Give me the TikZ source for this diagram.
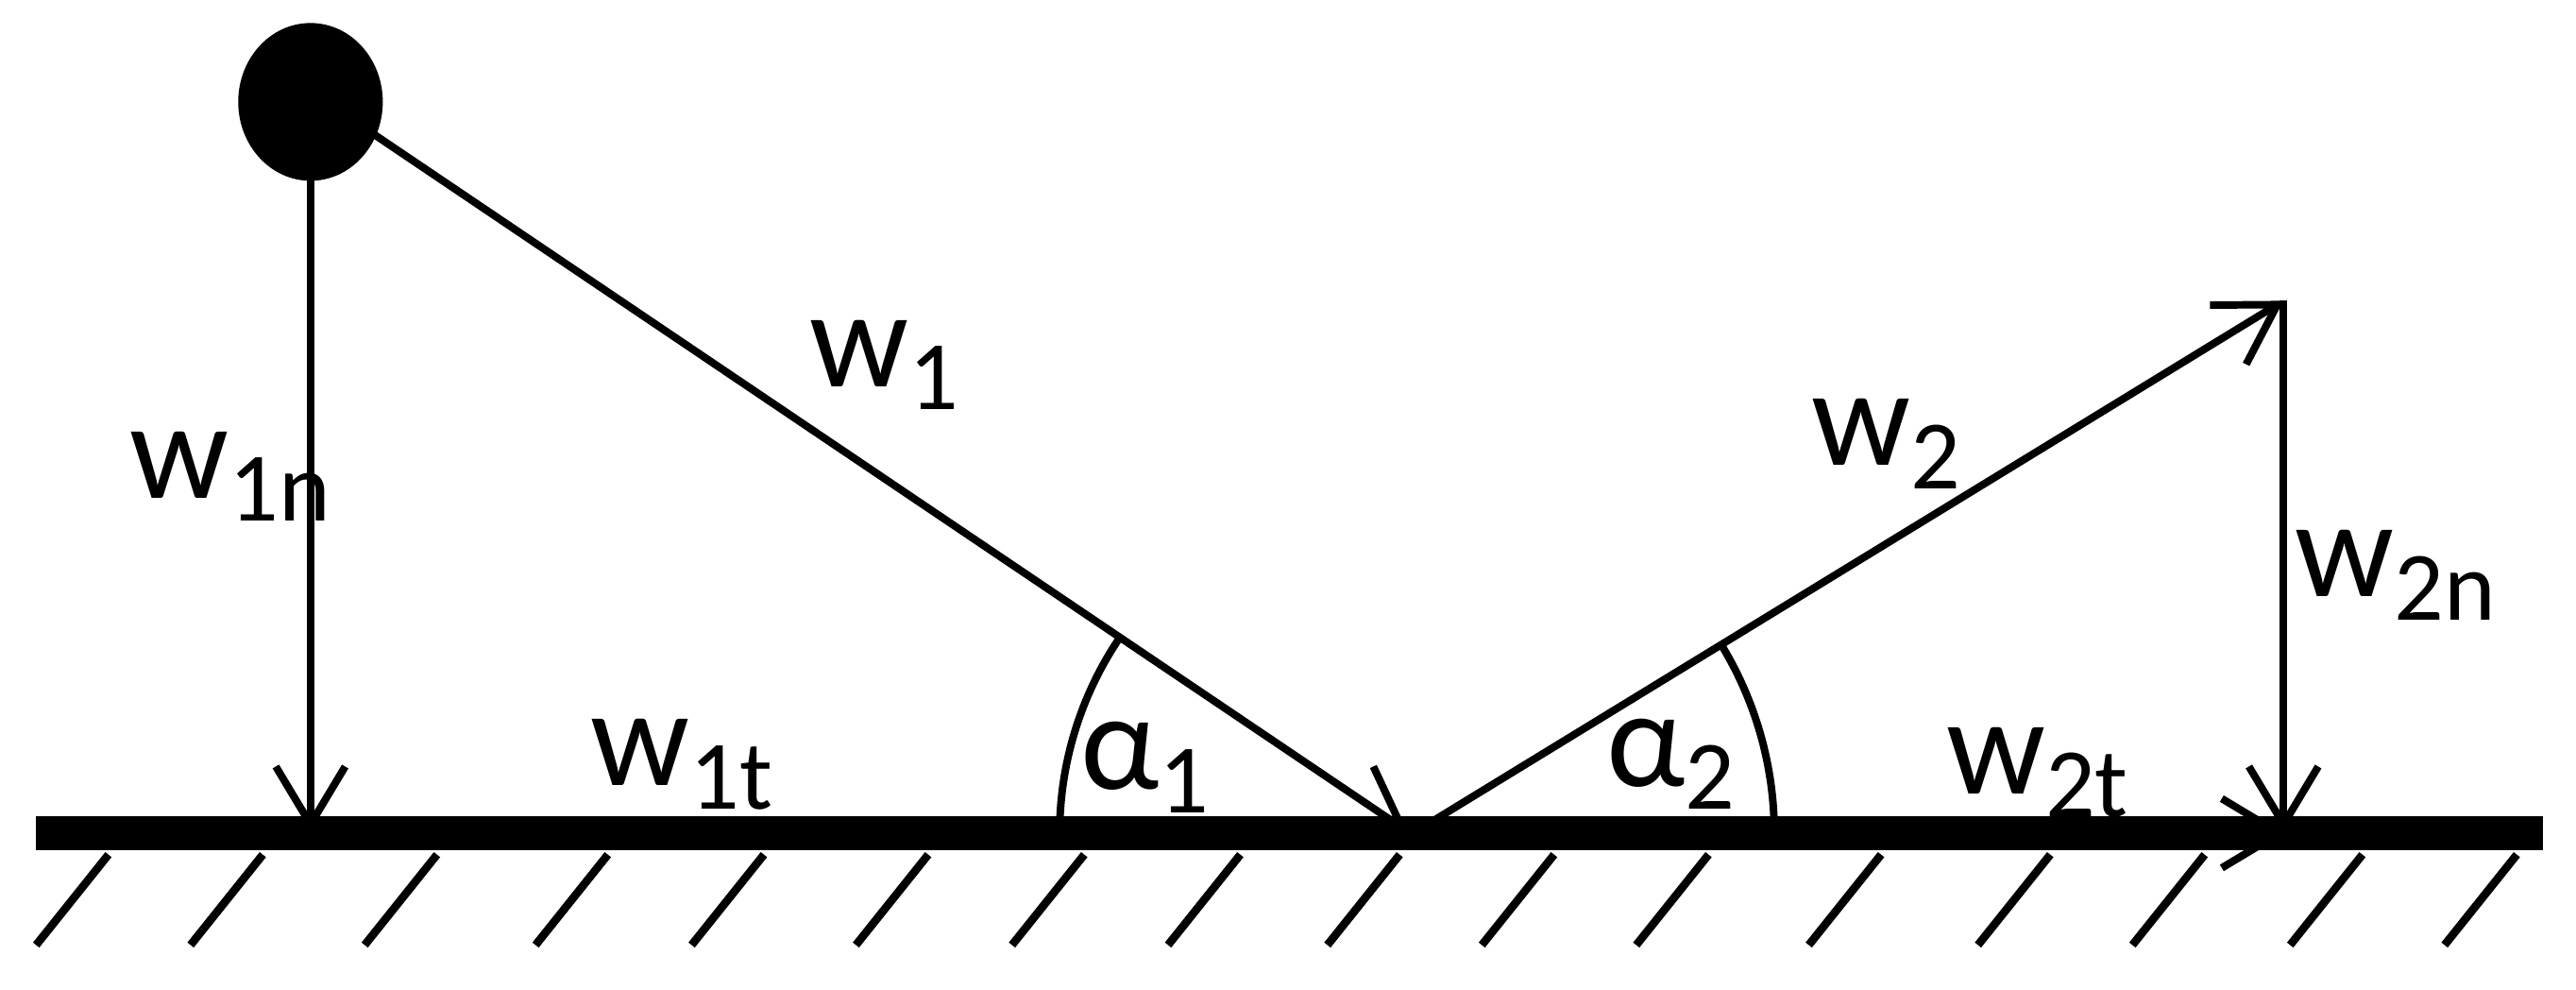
\documentclass[tikz,border=0pt]{standalone}
\usepackage{fontspec}
\setmainfont{Carlito}
\usetikzlibrary{arrows.meta}
\newcommand{\sbs}[1]{\raisebox{-0.35ex}{\fontsize{17}{18}\selectfont #1}}
\begin{document}
\begin{tikzpicture}[x=0.01cm,y=0.01cm,
  vec/.style={line width=1.3pt,-{Straight Barb[length=10pt,width=12pt,line width=1.3pt]}},
  lab/.style={font=\fontsize{24}{26}\selectfont},
  hatch/.style={line width=1.4pt}]
\useasboundingbox (0,0) rectangle (1568,602);
\fill (189,540) ellipse (44 and 48);
\coordinate (ball) at (189,494);
\coordinate (ballR) at (228,520);
\coordinate (foot1) at (189,96);
\coordinate (hit) at (857,96);
\coordinate (start2) at (860,95);
\coordinate (tip2) at (1390,419);
\coordinate (foot2) at (1390,96);
\coordinate (foot2g) at (1392,95);
\draw[vec] (ball) -- (foot1);
\draw[vec] (ballR) -- (hit);
\draw[vec] (start2) -- (tip2);
\draw[vec] (tip2) -- (foot2);
\draw[vec] (start2) -- (foot2g);
\draw[line width=6pt] (22,95) -- (1548,95);
\foreach \x in {66,160,266,370,465,565,660,755,852,946,1040,1145,1248,1342,1438,1532}
  \draw[hatch] (\x,82) -- ({\x-44},27);
\draw[line width=1.3pt] (645,95) arc[start angle=180,end angle=146,radius=212];
\draw[line width=1.3pt] (1080,95) arc[start angle=0,end angle=31.5,radius=220];
\node[lab] (w1) at (538,380) {w\sbs{1}};
\node[lab] (w1n) at (140,312) {w\sbs{1n}};
\node[lab] (w1t) at (415,137) {w\sbs{1t}};
\node[lab] (a1) at (697,135) {α\sbs{1}};
\node[lab] (w2) at (1148,332) {w\sbs{2}};
\node[lab] (w2n) at (1458,252) {w\sbs{2n}};
\node[lab] (a2) at (1017,137) {α\sbs{2}};
\node[lab] (w2t) at (1240,132) {w\sbs{2t}};
\end{tikzpicture}
\end{document}
